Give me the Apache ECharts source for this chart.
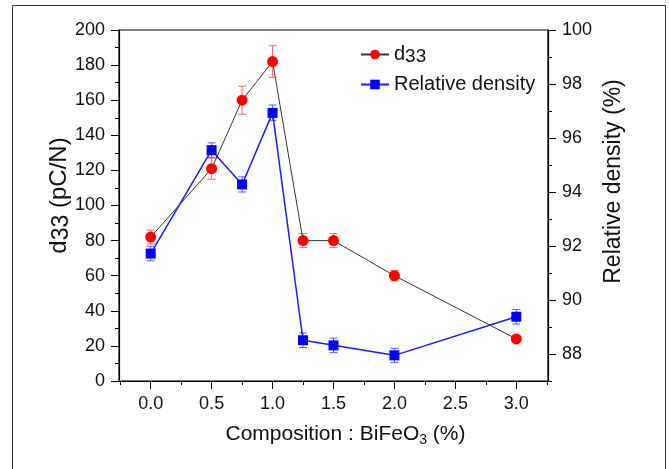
<!DOCTYPE html>
<html>
<head>
<meta charset="utf-8">
<script src="https://cdn.jsdelivr.net/npm/echarts@6/dist/echarts.min.js"></script>
<style>
html,body{margin:0;padding:0;background:#fff;}
#c{width:669px;height:469px;}
</style>
</head>
<body>
<div id="c"></div>
<script>
// ---- data ----
const composition = [0.0, 0.5, 0.75, 1.0, 1.25, 1.5, 2.0, 3.0];
const d33 = [82, 121, 160, 182, 80, 80, 60, 24];
const d33Err = [4, 6, 8, 9, 4, 4, 3, 0];
const density = [91.72, 95.55, 94.28, 96.93, 88.51, 88.32, 87.95, 89.38];
const densityErr = [0.27, 0.27, 0.28, 0.29, 0.27, 0.27, 0.26, 0.27];
const xTicks = [0, 0.5, 1.0, 1.5, 2.0, 2.5, 3.0];
const xMinorTicks = [-0.25, 0.25, 0.75, 1.25, 1.75, 2.25, 2.75, 3.25];
const rightTicks = [88, 90, 92, 94, 96, 98, 100];
const rightMinorTicks = [87, 89, 91, 93, 95, 97, 99];

const FONT = '"Liberation Sans", Arial, sans-serif';
const chart = echarts.init(document.getElementById('c'), null, {renderer: 'canvas'});

function pairs(xs, ys) { return xs.map((x, i) => [x, ys[i]]); }
function errData(xs, ys, es) { return xs.map((x, i) => [x, ys[i] - es[i], ys[i] + es[i]]); }

function errRender(color) {
  return function (params, api) {
    const x = api.value(0);
    const lo = api.coord([x, api.value(1)]);
    const hi = api.coord([x, api.value(2)]);
    if (Math.abs(hi[1] - lo[1]) < 1) return null;
    const w = 4;
    const st = {stroke: color, lineWidth: 1};
    return {
      type: 'group',
      children: [
        {type: 'line', shape: {x1: lo[0], y1: lo[1], x2: hi[0], y2: hi[1]}, style: st},
        {type: 'line', shape: {x1: lo[0] - w, y1: lo[1], x2: lo[0] + w, y2: lo[1]}, style: st},
        {type: 'line', shape: {x1: hi[0] - w, y1: hi[1], x2: hi[0] + w, y2: hi[1]}, style: st}
      ]
    };
  };
}

const axisLine = {show: true, onZero: false, lineStyle: {color: '#000', width: 1.2}};
const labelStyle = {fontFamily: FONT, fontSize: 18, color: '#111'};

const option = {
  animation: false,
  backgroundColor: '#fff',
  grid: {left: 119, right: 121, top: 30, bottom: 88, show: true, borderColor: '#000', borderWidth: 1.2, backgroundColor: 'transparent'},
  graphic: [{
    type: 'rect', left: 10, top: 3, shape: {width: 653, height: 480},
    style: {fill: 'none', stroke: '#333', lineWidth: 1}, silent: true, z: -1
  }],
  legend: {
    orient: 'vertical', left: 355, top: 38, itemWidth: 28, itemHeight: 12, itemGap: 7,
    textStyle: {
      fontFamily: FONT, fontSize: 20, color: '#111', lineHeight: 23,
      rich: {
        m: {fontFamily: FONT, fontSize: 20, color: '#111', lineHeight: 23, verticalAlign: 'middle'},
        s: {fontFamily: FONT, fontSize: 19, color: '#111', lineHeight: 15, verticalAlign: 'bottom'}
      }
    },
    formatter: function (n) { return n === 'd33' ? '{m|d}{s|33}' : '{m|' + n + '}'; },
    data: ['d33', 'Relative density']
  },
  xAxis: [{
    type: 'value', min: -0.26, max: 3.26, position: 'bottom',
    axisLine: axisLine,
    axisTick: {show: true, inside: false, length: 8, customValues: xTicks, lineStyle: {color: '#000'}},
    axisLabel: Object.assign({margin: 14, customValues: xTicks, formatter: v => v.toFixed(1)}, labelStyle),
    splitLine: {show: false},
    name: '{m|Composition : BiFeO}{s|3}{m| (%)}', nameLocation: 'middle', nameGap: 41,
    nameMoveOverlap: false,
    nameTextStyle: {
      padding: [0, 0, 0, 24],
      rich: {
        m: {fontFamily: FONT, fontSize: 21, color: '#111', lineHeight: 25, verticalAlign: 'middle'},
        s: {fontFamily: FONT, fontSize: 14, color: '#111', lineHeight: 12, verticalAlign: 'bottom'}
      }
    }
  }, {
    type: 'value', min: -0.26, max: 3.26, position: 'bottom', offset: 0,
    axisLine: {show: false, onZero: false},
    axisTick: {show: true, inside: false, length: 4, customValues: xMinorTicks, lineStyle: {color: '#000'}},
    axisLabel: {show: false}, splitLine: {show: false}
  }],
  yAxis: [{
    type: 'value', min: 0, max: 200, interval: 20, position: 'left',
    axisLine: axisLine,
    axisTick: {show: true, inside: false, length: 8, lineStyle: {color: '#000'}},
    minorTick: {show: true, splitNumber: 2, length: 4, lineStyle: {color: '#000'}},
    axisLabel: Object.assign({margin: 14}, labelStyle),
    splitLine: {show: false},
    name: '{m|d}{s|33}{m| (pC/N)}', nameLocation: 'middle', nameGap: 46, nameRotate: 90,
    nameMoveOverlap: false,
    nameTextStyle: {
      padding: [0, 0, 0, 20],
      rich: {
        m: {fontFamily: FONT, fontSize: 24, color: '#111', lineHeight: 28, verticalAlign: 'middle'},
        s: {fontFamily: FONT, fontSize: 23, color: '#111', lineHeight: 20, verticalAlign: 'bottom'}
      }
    }
  }, {
    type: 'value', min: 87, max: 100, position: 'right',
    axisLine: axisLine,
    axisTick: {show: true, inside: false, length: 8, customValues: rightTicks, lineStyle: {color: '#000'}},
    axisLabel: Object.assign({margin: 14, customValues: rightTicks}, labelStyle),
    splitLine: {show: false},
    name: 'Relative density (%)', nameLocation: 'middle', nameGap: 54, nameRotate: 90,
    nameMoveOverlap: false,
    nameTextStyle: {fontFamily: FONT, fontSize: 23, color: '#111', padding: [0, 0, 0, 48]}
  }, {
    type: 'value', min: 87, max: 100, position: 'right', offset: 0,
    axisLine: {show: false, onZero: false},
    axisTick: {show: true, inside: false, length: 4, customValues: rightMinorTicks, lineStyle: {color: '#000'}},
    axisLabel: {show: false}, splitLine: {show: false}
  }],
  series: [{
    name: 'd33 err', type: 'custom', xAxisIndex: 0, yAxisIndex: 0,
    renderItem: errRender('#f06a6a'), encode: {x: 0, y: [1, 2]},
    data: errData(composition, d33, d33Err), z: 2, silent: true
  }, {
    name: 'density err', type: 'custom', xAxisIndex: 0, yAxisIndex: 1,
    renderItem: errRender('#5a5aff'), encode: {x: 0, y: [1, 2]},
    data: errData(composition, density, densityErr), z: 2, silent: true
  }, {
    name: 'd33', type: 'line', xAxisIndex: 0, yAxisIndex: 0,
    data: pairs(composition, d33),
    symbol: 'circle', symbolSize: 11,
    itemStyle: {color: '#ff0000'},
    lineStyle: {color: '#333', width: 1},
    z: 4
  }, {
    name: 'Relative density', type: 'line', xAxisIndex: 0, yAxisIndex: 1,
    data: pairs(composition, density),
    symbol: 'rect', symbolSize: 10,
    itemStyle: {color: '#0000ff'},
    lineStyle: {color: '#1a1aff', width: 1.5},
    z: 3
  }]
};
chart.setOption(option);
</script>
</body>
</html>
